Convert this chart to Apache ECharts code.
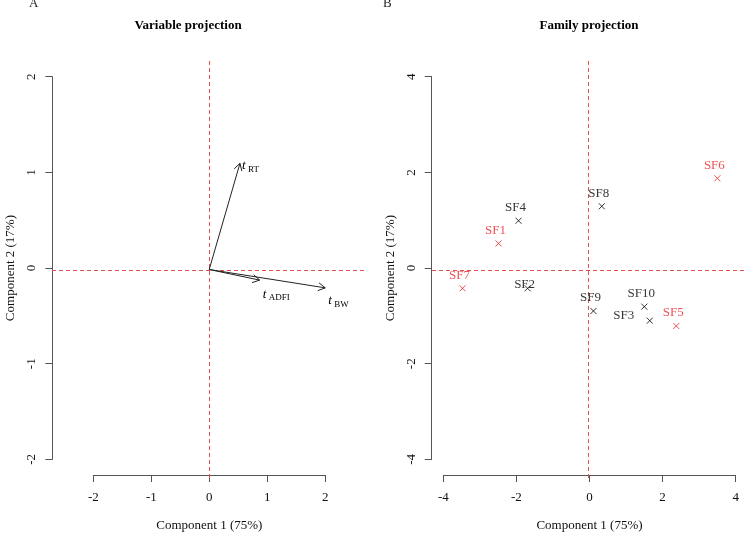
<!DOCTYPE html>
<html>
<head>
<meta charset="utf-8">
<script src="https://cdn.jsdelivr.net/npm/echarts@6/dist/echarts.min.js"></script>
<style>
  html, body { margin: 0; background: #fff; }
  #chart { width: 745px; height: 537px; }
</style>
</head>
<body>
<div id="chart"></div>
<script>
// panel A: variable loadings (arrows)
const varNames = ['RT', 'ADFI', 'BW'];
const varComp1 = [0.53, 0.87, 2.00];
const varComp2 = [1.10, -0.11, -0.19];

// panel B: family scores
const famNames = ['SF1', 'SF2', 'SF3', 'SF4', 'SF5', 'SF6', 'SF7', 'SF8', 'SF9', 'SF10'];
const famComp1 = [-2.47, -1.67, 1.69, -1.92, 2.42, 3.55, -3.46, 0.37, 0.14, 1.54];
const famComp2 = [0.54, -0.39, -1.06, 1.01, -1.17, 1.89, -0.39, 1.31, -0.86, -0.77];
const redFamilies = ['SF1', 'SF5', 'SF6', 'SF7'];

const ticksA = [-2, -1, 0, 1, 2];
const ticksB = [-4, -2, 0, 2, 4];

const FONT = '"Liberation Serif", "Times New Roman", serif';
const RED = '#e8262a';
const AXIS = '#555';

// text offsets for the arrow labels (px from arrow tip)
const arrowLabelOffset = [[2, 2], [3, 14], [3, 13]];

// R-style detached axes: drawn on their own grid spanning only the tick range
function showAxis(grid, ticks, isX, offset, name) {
  return {
    type: 'value',
    gridIndex: grid,
    min: ticks[0],
    max: ticks[ticks.length - 1],
    interval: ticks[1] - ticks[0],
    offset: offset,
    name: name,
    nameLocation: 'middle',
    nameGap: isX ? 44 : 35,
    nameRotate: isX ? 0 : 90,
    nameTextStyle: { fontFamily: FONT, fontSize: 13, color: '#111' },
    axisLine: { show: true, onZero: false, lineStyle: { color: AXIS, width: 1 } },
    axisTick: { show: true, length: 7, lineStyle: { color: AXIS } },
    axisLabel: {
      fontFamily: FONT, fontSize: 13, color: '#111',
      margin: isX ? 16 : 14, rotate: isX ? 0 : 90,
      showMinLabel: true, showMaxLabel: true
    },
    splitLine: { show: false }
  };
}

function hiddenAxis(grid, min, max) {
  return { type: 'value', gridIndex: grid, min: min, max: max, show: false, splitLine: { show: false } };
}

// dashed red lines through the origin, spanning the whole plot region
function originLines(gridIdx) {
  return {
    type: 'custom',
    xAxisIndex: gridIdx,
    yAxisIndex: gridIdx,
    silent: true,
    z: 1,
    data: [[0, 0]],
    renderItem: (params, api) => {
      const c = params.coordSys;
      const o = api.coord([api.value(0), api.value(1)]);
      const st = { stroke: '#e05050', lineWidth: 1, lineDash: [4, 3], fill: null };
      const y = Math.round(o[1]) + 0.5, x = Math.round(o[0]) + 0.5;
      return {
        type: 'group',
        children: [
          { type: 'line', shape: { x1: c.x, y1: y, x2: c.x + c.width, y2: y }, style: st },
          { type: 'line', shape: { x1: x, y1: c.y, x2: x, y2: c.y + c.height }, style: st }
        ]
      };
    }
  };
}

const famData = famNames.map((n, i) => {
  const red = redFamilies.includes(n);
  const col = red ? RED : '#000';
  let label = { position: 'top', distance: 3, offset: [-3, 0] };
  if (n === 'SF3') label = { position: 'left', distance: 12, offset: [0, -5] };
  if (n === 'SF2') label = { position: 'inside', offset: [-3, -4] };
  return {
    name: n,
    value: [famComp1[i], famComp2[i]],
    itemStyle: { borderColor: col },
    label: Object.assign({ color: col }, label)
  };
});

const chart = echarts.init(document.getElementById('chart'));

const option = {
  animation: false,
  title: [
    { text: 'A', left: 29, top: -3, padding: 0, textStyle: { fontFamily: FONT, fontSize: 13, fontWeight: 'normal', color: '#222' } },
    { text: 'Variable projection', left: 188, textAlign: 'center', top: 19, padding: 0, textStyle: { fontFamily: FONT, fontSize: 13, fontWeight: 'bold', color: '#000' } },
    { text: 'B', left: 383, top: -3, padding: 0, textStyle: { fontFamily: FONT, fontSize: 13, fontWeight: 'normal', color: '#222' } },
    { text: 'Family projection', left: 589, textAlign: 'center', top: 19, padding: 0, textStyle: { fontFamily: FONT, fontSize: 13, fontWeight: 'bold', color: '#000' } }
  ],
  grid: [
    { left: 52, top: 61, width: 315, height: 417 },
    { left: 93.3, top: 76.7, width: 232, height: 386 },
    { left: 432, top: 61, width: 315, height: 417 },
    { left: 443.3, top: 76.7, width: 292.4, height: 386 }
  ],
  xAxis: [
    hiddenAxis(0, -2.71, 2.72),
    showAxis(1, ticksA, true, 15.6, 'Component 1 (75%)'),
    hiddenAxis(2, -4.3, 4.31),
    showAxis(3, ticksB, true, 15.6, 'Component 1 (75%)')
  ],
  yAxis: [
    hiddenAxis(0, -2.16, 2.16),
    showAxis(1, ticksA, false, 41, 'Component 2 (17%)'),
    hiddenAxis(2, -4.32, 4.32),
    showAxis(3, ticksB, false, 11.6, 'Component 2 (17%)')
  ],
  series: [
    originLines(0),
    originLines(2),
    {
      type: 'custom',
      xAxisIndex: 0,
      yAxisIndex: 0,
      clip: false,
      z: 3,
      data: varComp1.map((v, i) => [v, varComp2[i]]),
      renderItem: (params, api) => {
        const i = params.dataIndex;
        const o = api.coord([0, 0]);
        const p = api.coord([api.value(0), api.value(1)]);
        const ang = Math.atan2(p[1] - o[1], p[0] - o[0]);
        const h = 8, a = Math.PI / 6;
        const h1 = [p[0] - h * Math.cos(ang - a), p[1] - h * Math.sin(ang - a)];
        const h2 = [p[0] - h * Math.cos(ang + a), p[1] - h * Math.sin(ang + a)];
        const off = arrowLabelOffset[i];
        return {
          type: 'group',
          children: [
            { type: 'line', shape: { x1: o[0], y1: o[1], x2: p[0], y2: p[1] }, style: { stroke: '#222', lineWidth: 1 } },
            { type: 'polyline', shape: { points: [h1, p, h2] }, style: { stroke: '#222', fill: null, lineWidth: 1 } },
            {
              type: 'text', x: p[0] + off[0], y: p[1] + off[1],
              style: { text: 't', font: 'italic 13px ' + FONT, fill: '#000', align: 'left', verticalAlign: 'middle' }
            },
            {
              type: 'text', x: p[0] + off[0] + 6, y: p[1] + off[1] + 4,
              style: { text: varNames[i], font: '9px ' + FONT, fill: '#000', align: 'left', verticalAlign: 'middle' }
            }
          ]
        };
      }
    },
    {
      type: 'scatter',
      xAxisIndex: 2,
      yAxisIndex: 2,
      z: 3,
      symbol: 'path://M0,0L10,10M10,0L0,10',
      symbolSize: 6,
      itemStyle: { color: 'transparent', borderWidth: 1 },
      label: { show: true, formatter: '{b}', fontFamily: FONT, fontSize: 13 },
      data: famData
    }
  ]
};

chart.setOption(option);
</script>
</body>
</html>
